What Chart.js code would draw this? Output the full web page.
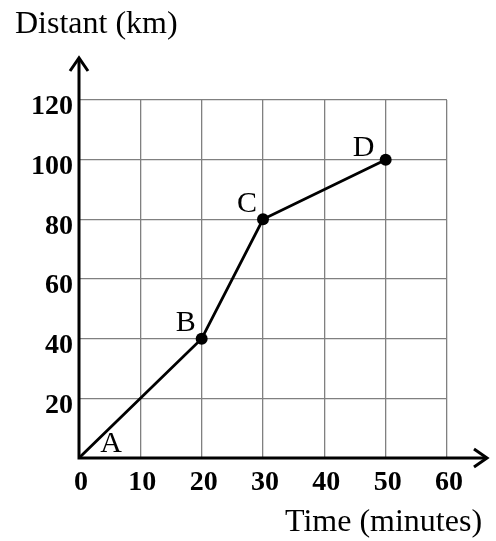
<!DOCTYPE html>
<html>
<head>
<meta charset="utf-8">
<script src="https://cdn.jsdelivr.net/npm/chart.js@4.4.1/dist/chart.umd.min.js"></script>
<style>
  html, body { margin: 0; padding: 0; background: #fff; }
  #wrap { width: 496px; height: 541px; }
</style>
</head>
<body>
<div id="wrap"><canvas id="myChart" width="496" height="541"></canvas></div>
<script>
// journey points: time in minutes vs distance in km
const pointNames = ['A', 'B', 'C', 'D'];
const timeMinutes = [0, 20, 30, 50];
const distanceKm = [0, 40, 80, 100];
const timeTicks = { min: 0, max: 60, step: 10 };
const distTicks = { min: 0, max: 120, step: 20 };

// where each letter sits next to its point (px)
const nameOffsets = [[32, -14], [-16, -16], [-16, -15], [-22, -12]];

const serif = '"Liberation Serif", "Times New Roman", serif';

const axesPlugin = {
    id: 'axesAndNames',
    afterDatasetsDraw(chart) {
        const c = chart.ctx;
        const area = chart.chartArea;
        c.save();

        // thick axes with arrow heads
        c.strokeStyle = '#000';
        c.lineWidth = 3;
        c.lineCap = 'butt';
        c.beginPath();
        c.moveTo(area.left, area.bottom + 1.5);
        c.lineTo(area.left, 58);
        c.moveTo(area.left - 1.5, area.bottom);
        c.lineTo(487, area.bottom);
        c.stroke();

        c.lineJoin = 'miter';
        c.beginPath();
        c.moveTo(area.left - 9, 71);
        c.lineTo(area.left, 58);
        c.lineTo(area.left + 9, 71);
        c.moveTo(474, area.bottom - 9);
        c.lineTo(487, area.bottom);
        c.lineTo(474, area.bottom + 9);
        c.stroke();

        // axis captions
        c.fillStyle = '#000';
        c.font = '32px ' + serif;
        c.textAlign = 'left';
        c.textBaseline = 'alphabetic';
        c.fillText('Distant (km)', 15, 33);
        c.fillText('Time (minutes)', 285, 531);

        // point letters
        const meta = chart.getDatasetMeta(0);
        c.font = '30px ' + serif;
        c.textAlign = 'center';
        c.textBaseline = 'middle';
        meta.data.forEach(function (pt, i) {
            c.fillText(pointNames[i], pt.x + nameOffsets[i][0], pt.y + nameOffsets[i][1]);
        });
        c.restore();
    }
};

const ctx = document.getElementById('myChart');
const chart = new Chart(ctx, {
    type: 'scatter',
    data: {
        datasets: [{
            data: timeMinutes.map((t, i) => ({ x: t, y: distanceKm[i] })),
            showLine: true,
            borderColor: '#000',
            borderWidth: 2.8,
            backgroundColor: '#000',
            pointBackgroundColor: '#000',
            pointBorderWidth: 0,
            pointRadius: [0, 6, 6, 6],
            tension: 0
        }]
    },
    options: {
        responsive: false,
        animation: false,
        devicePixelRatio: 1,
        layout: { padding: { top: 100, right: 49, left: 0, bottom: 0 } },
        plugins: {
            legend: { display: false },
            tooltip: { enabled: false }
        },
        scales: {
            x: {
                type: 'linear',
                min: timeTicks.min,
                max: timeTicks.max,
                afterFit(scale) { scale.height = 83; },
                border: { display: false },
                grid: { color: '#808080', lineWidth: 1.3, drawTicks: false },
                ticks: {
                    stepSize: timeTicks.step,
                    padding: 8,
                    labelOffset: 2,
                    color: '#000',
                    font: { family: serif, size: 28, weight: 'bold' }
                }
            },
            y: {
                type: 'linear',
                min: distTicks.min,
                max: distTicks.max,
                afterFit(scale) { scale.width = 79; },
                border: { display: false },
                grid: { color: '#808080', lineWidth: 1.3, drawTicks: false },
                ticks: {
                    stepSize: distTicks.step,
                    padding: 6,
                    labelOffset: 7,
                    color: '#000',
                    font: { family: serif, size: 28, weight: 'bold' },
                    callback: (v) => v === 0 ? '' : v
                }
            }
        }
    },
    plugins: [axesPlugin]
});
</script>
</body>
</html>
